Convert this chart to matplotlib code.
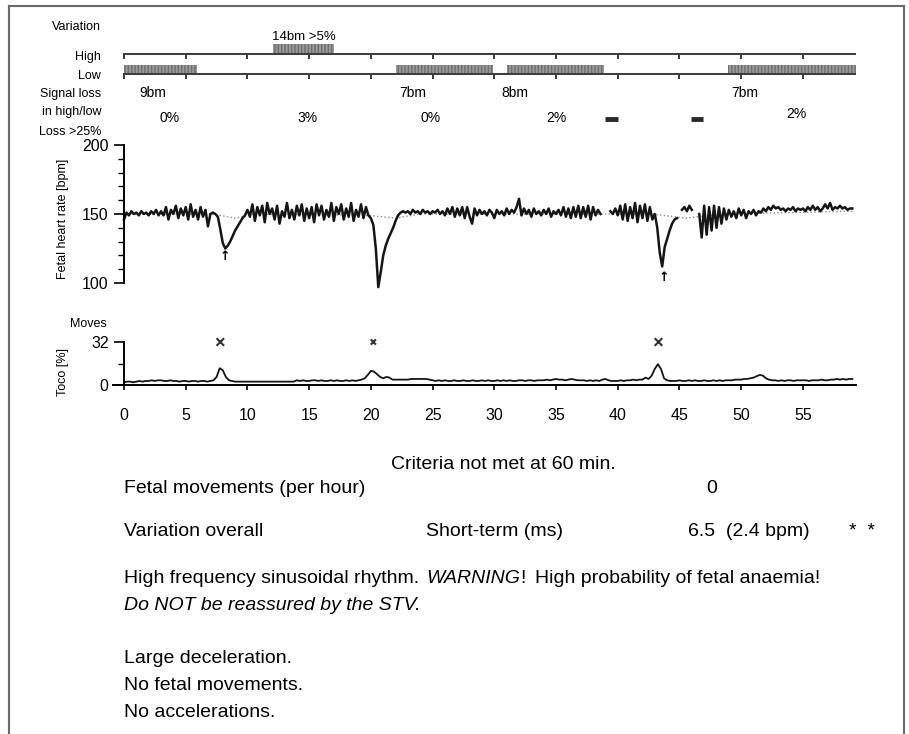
import numpy as np
import matplotlib
matplotlib.use("Agg")
import matplotlib.pyplot as plt
from matplotlib.lines import Line2D

plt.rcParams['font.family'] = ['Liberation Sans', 'DejaVu Sans']

# ---- data -------------------------------------------------------------
# fetal heart rate, one value every 0.2 min (nan = signal loss)
nan = np.nan
fhr = [
    146, 151, 149, 152, 150,  151, 149, 152, 150, 151,  149, 152, 150, 153, 149,
    152, 149, 155, 146, 153,  150, 156, 147, 154, 149,  155, 146, 157, 148, 153,
    146, 155, 148, 153, 141,  150, 151, 150, 148, 139,  129, 125, 127, 130, 134,
    138, 141, 144, 147, 149,  153, 148, 157, 145, 155,  149, 156, 144, 158, 150,
    154, 146, 156, 143, 152,  148, 158, 147, 153, 146,  156, 149, 157, 145, 154,
    147, 155, 144, 157, 149,  156, 146, 153, 148, 158,  145, 155, 150, 157, 146,
    154, 148, 158, 145, 153,  148, 157, 147, 155, 149,  147, 142, 125, 97, 108,
    120, 127, 132, 136, 140,  145, 149, 151, 152, 151,  152, 150, 153, 151, 152,
    150, 153, 151, 152, 150,  152, 151, 153, 150, 152,  149, 154, 150, 155, 148,
    154, 149, 155, 147, 155,  148, 143, 154, 149, 153,  150, 152, 149, 153, 151,
    147, 153, 150, 152, 149,  154, 150, 153, 151, 155,  161, 149, 154, 150, 153,
    148, 154, 150, 152, 149,  153, 150, 154, 148, 152,  150, 153, 149, 155, 148,
    154, 147, 155, 148, 156,  147, 155, 148, 156, 146,  155, 149, 153, 150, nan,
    nan, nan, 152, 150, 154,  149, 156, 146, 157, 145,  155, 147, 158, 144, 156,
    147, 157, 145, 155, 146,  150, 140, 122, 112, 126,  132, 138, 143, 146, 147,
    nan, 153, 155, 152, 156,  153, nan, nan, 150, 133,  156, 135, 155, 138, 156,
    140, 155, 143, 154, 146,  153, 148, 152, 147, 154,  149, 153, 147, 152, 150,
    153, 149, 152, 151, 154,  152, 155, 153, 156, 154,  155, 153, 154, 152, 154,
    153, 155, 152, 154, 153,  154, 152, 155, 153, 156,  153, 155, 152, 154, 157,
    154, 158, 153, 155, 154,  156, 154, 155, 153, 154,  154,
]
fhr_step = 0.2

# computed baseline (dotted)
baseline_t = [0, 7.2, 9.0, 10.5, 19.8, 22.0, 24.0, 42.8, 45.5, 48.5, 59]
baseline_v = [150, 150, 147, 150, 149, 147, 150, 150, 147, 150, 152]

# deceleration markers
decel_t = [8.2, 43.7]
decel_v = [119, 104]

# toco, one value every 0.25 min
toco = [
    2.0, 2.5, 2.5, 2.0,  2.5, 3.0, 2.5, 3.0,  3.0, 3.5, 3.0, 3.5,  3.5, 3.0, 3.0, 3.5,
    3.0, 3.0, 2.5, 3.0,  3.0, 2.5, 3.0, 3.0,  2.5, 3.0, 3.0, 2.5,  3.0, 3.5, 6.0, 12.5,
    11.0, 6.0, 3.5, 3.0,  2.5, 2.5, 2.5, 2.5,  2.5, 2.5, 2.5, 2.5,  2.5, 2.5, 2.5, 2.5,
    2.5, 2.5, 2.5, 2.5,  2.5, 2.5, 2.5, 2.5,  3.5, 3.0, 3.5, 3.0,  3.0, 3.5, 3.5, 3.0,
    3.5, 3.0, 3.0, 3.5,  3.0, 3.5, 3.0, 3.0,  3.5, 3.0, 3.5, 3.0,  3.5, 4.0, 5.0, 7.5,
    10.5, 10.0, 8.0, 6.0,  5.0, 6.0, 5.5, 4.0,  4.0, 4.0, 4.0, 4.0,  4.0, 4.5, 4.5, 4.5,
    4.5, 4.5, 4.5, 4.0,  3.5, 3.0, 3.5, 3.0,  3.5, 3.0, 3.0, 3.5,  3.0, 3.0, 3.5, 3.0,
    3.0, 3.5, 3.0, 3.0,  3.5, 3.0, 3.5, 3.0,  3.0, 3.5, 3.0, 3.5,  3.0, 3.5, 3.0, 3.0,
    3.5, 3.5, 3.0, 3.5,  3.5, 3.0, 3.5, 3.5,  3.5, 4.0, 3.5, 4.0,  4.5, 4.0, 4.0, 3.5,
    4.0, 4.5, 4.0, 3.5,  3.5, 3.5, 3.0, 3.5,  3.0, 3.5, 3.0, 4.0,  4.5, 3.5, 3.0, 3.0,
    3.0, 3.5, 3.0, 3.5,  3.5, 4.0, 3.5, 4.0,  4.0, 5.5, 4.5, 7.0,  12.0, 15.5, 12.0, 5.0,
    3.5, 3.0, 3.0, 3.0,  3.5, 3.0, 3.0, 3.5,  3.0, 3.5, 3.0, 3.0,  3.5, 3.0, 3.0, 3.5,
    3.0, 3.5, 3.0, 3.5,  3.5, 3.5, 4.0, 4.0,  4.0, 4.5, 4.5, 5.0,  5.5, 6.5, 7.5, 7.0,
    5.0, 4.0, 3.5, 3.5,  3.0, 3.5, 3.0, 3.5,  3.5, 3.0, 3.5, 3.5,  3.5, 3.5, 3.0, 3.5,
    3.5, 3.5, 4.0, 3.5,  3.5, 4.0, 4.0, 4.5,  4.0, 4.5, 4.0, 4.5,  4.5,
]
toco_step = 0.25
moves_t = [7.8, 20.2, 43.3]
moves_size = [30, 14, 30]

# variation episodes (start, end in minutes)
high_eps = [(12.1, 17.0)]
low_eps = [(0.0, 5.9), (22.0, 29.9), (31.0, 38.9), (48.9, 59.3)]
loss_eps = [(39.0, 40.0), (45.9, 46.9)]
bm_t = [2.3, 23.4, 31.7, 50.3]
bm_labels = ['9bm', '7bm', '8bm', '7bm']
loss_pct_t = [3.7, 14.9, 24.8, 35.0, 54.5]
loss_pct = ['0%', '3%', '0%', '2%', '2%']
high_label = '14bm >5%'

x_ticks = [0, 5, 10, 15, 20, 25, 30, 35, 40, 45, 50, 55]

# ---- layout ------------------------------------------------------------
W, H = 909, 734
XLIM = (-0.9, 59.3)
AX_L, AX_W = 112.9 / W, 743.1 / W


def fy(px):
    return 1 - px / H


fig = plt.figure(figsize=(W / 100, H / 100), dpi=100)

# frame around the page
frame = dict(color='#6a6a6a', lw=1.5)
fig.add_artist(Line2D([9 / W, 9 / W], [0, fy(6)], transform=fig.transFigure, **frame))
fig.add_artist(Line2D([904 / W, 904 / W], [0, fy(6)], transform=fig.transFigure, **frame))
fig.add_artist(Line2D([9 / W, 904 / W], [fy(6), fy(6)], transform=fig.transFigure, **frame))

# ---- variation bands ---------------------------------------------------
ax_v = fig.add_axes([AX_L, fy(140), AX_W, 140 / H])
ax_v.set_xlim(*XLIM)
ax_v.set_ylim(-3.3, 3.7)
ax_v.axis('off')
line_kw = dict(color='#3a3a3a', lw=1.4)
for row in (1, 0):
    ax_v.plot([0, XLIM[1]], [row, row], **line_kw)
    ax_v.vlines(x_ticks, row - 0.25, row, color='#3a3a3a', lw=1.4)
for s, e in high_eps:
    ax_v.bar(s, 0.5, width=e - s, bottom=1, align='edge', color='#9a9a9a',
             edgecolor='#6e6e6e', hatch='|||||', lw=0)
for s, e in low_eps:
    ax_v.bar(s, 0.45, width=e - s, bottom=0, align='edge', color='#9a9a9a',
             edgecolor='#6e6e6e', hatch='|||||', lw=0)
for s, e in loss_eps:
    ax_v.plot([s, e], [-2.25, -2.25], color='#2a2a2a', lw=3.5, solid_capstyle='butt')

ax_v.text(np.mean(high_eps[0]), 1.7, high_label, ha='center', va='baseline', fontsize=9.5)
for t, lab in zip(bm_t, bm_labels):
    ax_v.text(t, -1.15, lab, ha='center', va='baseline', fontsize=10)
for i, (t, lab) in enumerate(zip(loss_pct_t, loss_pct)):
    ax_v.text(t, -2.2 if i == 4 else -2.4, lab, ha='center', va='baseline', fontsize=10)

row_labels = [('Variation', 2.2), ('High', 0.7), ('Low', -0.25), ('Signal loss', -1.15),
              ('in high/low', -2.05), ('Loss >25%', -3.05)]
for lab, y in row_labels:
    ax_v.text(-1.86, y, lab, ha='right', va='baseline', fontsize=9, clip_on=False)

# ---- fetal heart rate -----------------------------------------------------
ax_f = fig.add_axes([AX_L, fy(296.8), AX_W, 151.8 / H])
fhr_t = np.arange(len(fhr)) * fhr_step
ax_f.plot(baseline_t, baseline_v, color='#8a8a8a', lw=1.0, ls=':')
ax_f.plot(fhr_t, fhr, color='#151515', lw=1.8)
for t, v in zip(decel_t, decel_v):
    ax_f.text(t, v, '\u2191', ha='center', va='center', fontsize=9, fontweight='bold',
              family='DejaVu Sans')
ax_f.set_xlim(*XLIM)
ax_f.set_ylim(90, 200)
for side in ('top', 'right', 'bottom'):
    ax_f.spines[side].set_visible(False)
ax_f.spines['left'].set_position(('data', 0))
ax_f.spines['left'].set_bounds(100, 200)
ax_f.spines['left'].set_linewidth(1.4)
ax_f.set_xticks([])
ax_f.set_yticks([100, 150, 200])
ax_f.set_yticks(range(110, 200, 10), minor=True)
ax_f.tick_params(axis='y', which='major', length=7, width=1.2, labelsize=11.5, pad=4)
ax_f.tick_params(axis='y', which='minor', length=4, width=1.0)
fig.text(63 / W, fy(219), 'Fetal heart rate [bpm]', rotation=90, ha='center', va='center',
         fontsize=9)

# ---- toco -------------------------------------------------------------------
ax_t = fig.add_axes([AX_L, fy(385), AX_W, 43 / H])
toco_t = np.arange(len(toco)) * toco_step
ax_t.plot(toco_t, toco, color='#151515', lw=1.3)
ax_t.scatter(moves_t, [32] * len(moves_t), s=moves_size, marker='x', color='#333333',
             linewidths=1.5, clip_on=False)
ax_t.set_xlim(*XLIM)
ax_t.set_ylim(0, 32)
for side in ('top', 'right'):
    ax_t.spines[side].set_visible(False)
ax_t.spines['left'].set_position(('data', 0))
ax_t.spines['left'].set_linewidth(1.4)
ax_t.spines['bottom'].set_linewidth(1.4)
ax_t.set_yticks([0, 32])
ax_t.set_yticks([16], minor=True)
ax_t.set_xticks(x_ticks)
ax_t.tick_params(axis='y', which='major', length=7, width=1.2, labelsize=11.5, pad=4)
ax_t.tick_params(axis='y', which='minor', length=4, width=1.0)
ax_t.tick_params(axis='x', length=3.5, width=1.2, labelsize=11.5, pad=13)
fig.text(63 / W, fy(372), 'Toco [%]', rotation=90, ha='center', va='center', fontsize=9)
fig.text(107 / W, fy(327), 'Moves', ha='right', va='baseline', fontsize=9)

# ---- report text ----------------------------------------------------------
FS = 14
fig.text(503 / W, fy(469), 'Criteria not met at 60 min.', ha='center', va='baseline', fontsize=FS)
fig.text(124 / W, fy(493), 'Fetal movements (per hour)', va='baseline', fontsize=FS)
fig.text(712 / W, fy(493), '0', ha='center', va='baseline', fontsize=FS)
fig.text(124 / W, fy(536), 'Variation overall', va='baseline', fontsize=FS)
fig.text(426 / W, fy(536), 'Short-term (ms)', va='baseline', fontsize=FS)
fig.text(688 / W, fy(536), '6.5  (2.4 bpm)', va='baseline', fontsize=FS)
fig.text(862 / W, fy(536), '*  *', ha='center', va='baseline', fontsize=FS)

renderer = fig.canvas.get_renderer()
x = 124
for txt, style, gap in [('High frequency sinusoidal rhythm.', 'normal', 7),
                        ('WARNING', 'italic', 0), ('!', 'normal', 10),
                        ('High probability of fetal anaemia!', 'normal', 0)]:
    t = fig.text(x / W, fy(583), txt, style=style, va='baseline', fontsize=FS)
    x = t.get_window_extent(renderer).x1 + gap

fig.text(124 / W, fy(610), 'Do NOT be reassured by the STV.', style='italic', va='baseline',
         fontsize=FS)
for txt, y in [('Large deceleration.', 663), ('No fetal movements.', 690),
               ('No accelerations.', 717)]:
    fig.text(124 / W, fy(y), txt, va='baseline', fontsize=FS)

fig.savefig('out.png', dpi=100)
